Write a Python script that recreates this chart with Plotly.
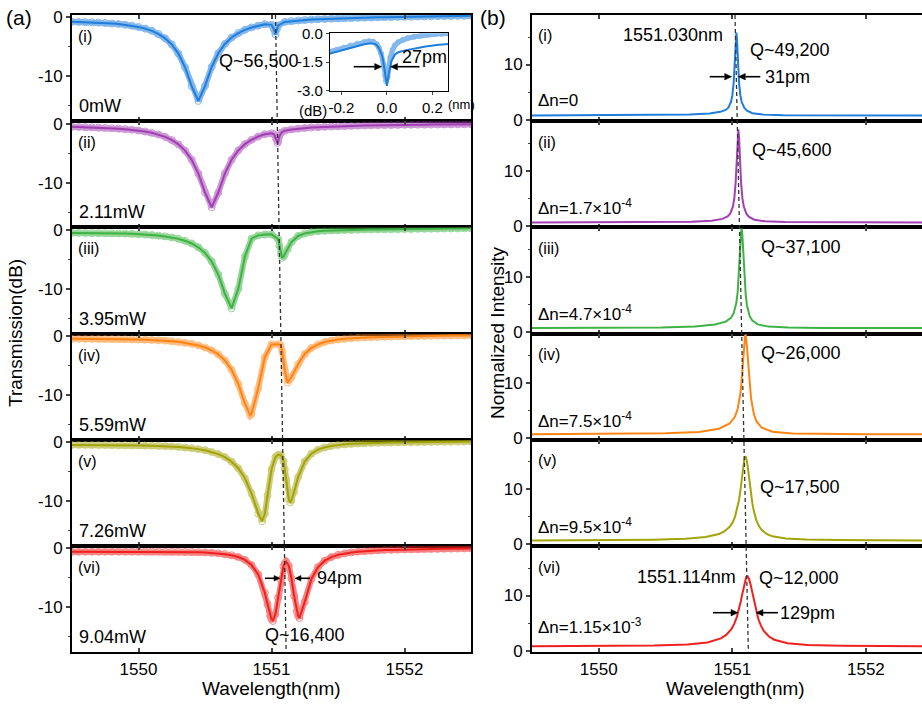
import plotly.graph_objects as go

W, H = 922, 705
FONT = "Arial, 'Liberation Sans', Helvetica, sans-serif"

# ---------------- data: panel (a) transmission spectra (dB) ----------------
WL_BASE = [1549.50, 1549.55, 1549.60, 1549.65, 1549.70, 1549.75, 1549.80, 1549.85, 1549.90, 1549.95,
           1550.00, 1550.05, 1550.10, 1550.15, 1550.20, 1550.25, 1550.30, 1550.35, 1550.40, 1550.45,
           1550.50, 1550.55, 1550.60, 1550.65, 1550.70, 1550.75, 1550.80, 1550.85, 1550.90, 1550.95,
           1551.00, 1551.05, 1551.10, 1551.15, 1551.20, 1551.25, 1551.30, 1551.35, 1551.40, 1551.45,
           1551.50, 1551.55, 1551.60, 1551.65, 1551.70, 1551.75, 1551.80, 1551.85, 1551.90, 1551.95,
           1552.00, 1552.05, 1552.10, 1552.15, 1552.20, 1552.25, 1552.30, 1552.35, 1552.40, 1552.45,
           1552.50]

TR_I = [-0.75, -0.78, -0.81, -0.84, -0.89, -0.96, -1.04, -1.13, -1.26, -1.41,
        -1.63, -1.91, -2.28, -2.81, -3.55, -4.60, -6.15, -8.46, -11.68, -14.16,
        -11.65, -8.41, -6.08, -4.50, -3.42, -2.66, -2.11, -1.71, -1.40, -1.16,
        -1.27, -1.37, -0.77, -0.64, -0.52, -0.44, -0.38, -0.33, -0.28, -0.23,
        -0.19, -0.15, -0.12, -0.08, -0.05, -0.03, 0.00, 0.03, 0.05, 0.07,
        0.09, 0.11, 0.13, 0.15, 0.17, 0.19, 0.21, 0.22, 0.24, 0.26,
        0.28]
WL_I_EXTRA = [1551.02, 1551.03, 1551.04]
TR_I_EXTRA = [-2.11, -2.90, -2.05]

TR_II = [-0.56, -0.59, -0.61, -0.65, -0.69, -0.73, -0.79, -0.86, -0.95, -1.05,
         -1.19, -1.35, -1.57, -1.87, -2.25, -2.78, -3.53, -4.59, -6.15, -8.47,
         -11.69, -14.19, -11.69, -8.45, -6.13, -4.56, -3.49, -2.74, -2.19, -1.81,
         -1.66, -3.03, -1.22, -0.99, -0.85, -0.75, -0.67, -0.61, -0.55, -0.51,
         -0.46, -0.43, -0.40, -0.36, -0.34, -0.31, -0.30, -0.28, -0.26, -0.24,
         -0.22, -0.21, -0.20, -0.19, -0.18, -0.17, -0.16, -0.15, -0.14, -0.13,
         -0.12]
WL_II_EXTRA = [1551.02, 1551.035, 1551.045, 1551.06, 1551.075]
TR_II_EXTRA = [-1.86, -2.62, -3.29, -2.13, -1.51]

TR_III = [-0.53, -0.53, -0.54, -0.55, -0.56, -0.58, -0.60, -0.62, -0.65, -0.69,
          -0.75, -0.81, -0.89, -0.99, -1.13, -1.31, -1.54, -1.87, -2.32, -2.97,
          -3.93, -5.37, -7.60, -10.88, -13.31, -10.06, -4.53, -1.50, -0.95, -0.80,
          -0.78, -1.60, -4.19, -2.09, -1.05, -0.61, -0.38, -0.26, -0.18, -0.13,
          -0.08, -0.06, -0.03, 0.00, 0.02, 0.04, 0.06, 0.07, 0.09, 0.10,
          0.12, 0.13, 0.15, 0.16, 0.17, 0.19, 0.20, 0.21, 0.22, 0.23,
          0.25]
WL_III_EXTRA = [1551.06, 1551.07, 1551.08, 1551.09, 1551.12]
TR_III_EXTRA = [-2.70, -4.00, -4.75, -4.54, -3.29]

TR_IV = [-0.49, -0.49, -0.50, -0.50, -0.51, -0.51, -0.52, -0.53, -0.55, -0.58,
         -0.60, -0.64, -0.68, -0.74, -0.80, -0.89, -1.00, -1.16, -1.34, -1.60,
         -1.95, -2.43, -3.11, -4.16, -5.73, -8.12, -11.42, -13.20, -8.90, -3.56,
         -1.45, -1.40, -5.85, -6.95, -4.78, -3.06, -2.03, -1.42, -1.02, -0.77,
         -0.59, -0.49, -0.38, -0.31, -0.26, -0.20, -0.17, -0.14, -0.10, -0.07,
         -0.05, -0.04, -0.02, 0.00, 0.02, 0.03, 0.04, 0.06, 0.07, 0.08,
         0.09]
WL_IV_EXTRA = [1550.84, 1551.07, 1551.08, 1551.12, 1551.14]
TR_IV_EXTRA = [-13.45, -1.60, -2.60, -7.90, -7.35]

TR_V = [-0.47, -0.47, -0.47, -0.48, -0.48, -0.48, -0.49, -0.50, -0.51, -0.54,
        -0.55, -0.57, -0.60, -0.63, -0.68, -0.74, -0.81, -0.91, -1.02, -1.18,
        -1.37, -1.66, -2.02, -2.53, -3.31, -4.42, -6.12, -8.71, -12.10, -12.15,
        -4.60, -2.15, -4.60, -9.86, -5.94, -3.28, -1.96, -1.27, -0.88, -0.65,
        -0.48, -0.37, -0.29, -0.23, -0.18, -0.14, -0.11, -0.08, -0.06, -0.04,
        -0.03, -0.01, 0.01, 0.02, 0.04, 0.05, 0.06, 0.07, 0.09, 0.10,
        0.11]
WL_V_EXTRA = [1550.93, 1550.97, 1551.03, 1551.07, 1551.09, 1551.11, 1551.13, 1551.14, 1551.17]
TR_V_EXTRA = [-13.40, -9.06, -2.50, -2.15, -3.20, -6.30, -9.70, -10.20, -8.46]

TR_VI = [-0.59, -0.59, -0.58, -0.57, -0.57, -0.56, -0.56, -0.55, -0.55, -0.54,
         -0.54, -0.54, -0.54, -0.54, -0.55, -0.56, -0.57, -0.59, -0.61, -0.65,
         -0.69, -0.76, -0.85, -0.98, -1.17, -1.46, -1.95, -2.83, -4.42, -7.56,
         -12.00, -8.34, -2.55, -5.09, -11.40, -9.06, -5.19, -3.17, -2.09, -1.48,
         -1.10, -0.86, -0.69, -0.56, -0.47, -0.40, -0.34, -0.29, -0.26, -0.22,
         -0.19, -0.17, -0.15, -0.12, -0.10, -0.09, -0.07, -0.05, -0.04, -0.02,
         -0.01]
WL_VI_EXTRA = [1550.97, 1550.99, 1551.01, 1551.03, 1551.07, 1551.09, 1551.11, 1551.13, 1551.17, 1551.19, 1551.21]
TR_VI_EXTRA = [-9.43, -11.45, -12.30, -11.15, -5.28, -3.04, -2.25, -2.96, -8.06, -10.71, -11.81]

# inset of (a)(i): detuning (nm) vs transmission (dB)
INSET_DET_MEAS = [-0.25, -0.22, -0.19, -0.16, -0.13, -0.10, -0.08, -0.06, -0.045, -0.035,
                  -0.025, -0.015, -0.008, -0.003, 0.003, 0.008, 0.015, 0.025, 0.035, 0.05,
                  0.07, 0.09, 0.12, 0.15, 0.18, 0.21, 0.24, 0.27]
INSET_TR_MEAS = [-0.95, -0.85, -0.74, -0.62, -0.52, -0.44, -0.40, -0.42, -0.55, -0.75,
                 -1.05, -1.60, -2.20, -2.50, -2.30, -1.80, -1.25, -0.85, -0.62, -0.45,
                 -0.32, -0.24, -0.16, -0.10, -0.06, -0.03, -0.01, 0.01]
INSET_DET_FIT = [-0.25, -0.20, -0.15, -0.10, -0.07, -0.05, -0.035, -0.02, -0.01, 0.0,
                 0.01, 0.02, 0.035, 0.05, 0.08, 0.12, 0.17, 0.22, 0.27]
INSET_TR_FIT = [-1.05, -0.88, -0.70, -0.56, -0.50, -0.55, -0.75, -1.20, -1.90, -2.75,
                -2.00, -1.45, -1.10, -0.98, -0.88, -0.78, -0.68, -0.60, -0.54]

# ---------------- data: panel (b) simulated normalized intensity ----------------
WL_B1 = [1549.50, 1550.00, 1550.43, 1550.68, 1550.83, 1550.91, 1550.95, 1550.97, 1550.99, 1551.00,
         1551.01, 1551.015, 1551.02, 1551.025, 1551.03, 1551.035, 1551.04, 1551.045, 1551.05, 1551.06,
         1551.07, 1551.09, 1551.11, 1551.15, 1551.23, 1551.38, 1551.63, 1552.00, 1552.50]
IN_B1 = [0.75, 0.77, 0.80, 0.90, 1.10, 1.40, 1.75, 2.15, 3.18, 4.38,
         6.76, 8.80, 11.55, 14.44, 15.80, 14.44, 11.55, 8.80, 6.76, 4.38,
         3.18, 2.10, 1.62, 1.15, 0.90, 0.80, 0.76, 0.75, 0.75]
WL_B2 = [1549.50, 1550.00, 1550.445, 1550.695, 1550.845, 1550.925, 1550.965, 1550.985, 1551.005, 1551.015,
         1551.025, 1551.03, 1551.035, 1551.04, 1551.045, 1551.05, 1551.055, 1551.06, 1551.065, 1551.075,
         1551.085, 1551.105, 1551.125, 1551.165, 1551.245, 1551.395, 1551.645, 1552.00, 1552.50]
IN_B2 = [0.60, 0.62, 0.64, 0.74, 0.92, 1.25, 1.70, 2.25, 3.56, 5.06,
         7.98, 10.31, 13.29, 16.19, 17.50, 16.19, 13.29, 10.31, 7.98, 5.06,
         3.56, 2.18, 1.60, 1.10, 0.80, 0.66, 0.62, 0.61, 0.60]
WL_B3 = [1549.50, 1550.00, 1550.47, 1550.72, 1550.87, 1550.95, 1550.99, 1551.01, 1551.03, 1551.04,
         1551.05, 1551.055, 1551.06, 1551.065, 1551.07, 1551.075, 1551.08, 1551.085, 1551.09, 1551.10,
         1551.11, 1551.13, 1551.15, 1551.19, 1551.27, 1551.42, 1551.67, 1552.00, 1552.50]
IN_B3 = [0.72, 0.73, 0.81, 0.98, 1.34, 1.87, 2.59, 3.41, 5.29, 7.29,
         10.70, 13.09, 15.80, 18.10, 18.80, 17.60, 15.30, 12.59, 10.19, 6.78,
         4.77, 2.87, 2.05, 1.37, 0.97, 0.79, 0.73, 0.71, 0.70]
WL_B4 = [1549.50, 1550.00, 1550.50, 1550.75, 1550.90, 1550.98, 1551.02, 1551.04, 1551.06, 1551.07,
         1551.08, 1551.085, 1551.09, 1551.095, 1551.10, 1551.105, 1551.11, 1551.115, 1551.12, 1551.13,
         1551.14, 1551.16, 1551.18, 1551.22, 1551.30, 1551.45, 1551.70, 1552.00, 1552.50]
IN_B4 = [0.73, 0.77, 0.87, 1.14, 1.72, 2.66, 3.91, 5.29, 8.07, 10.49,
         13.81, 15.65, 17.39, 18.64, 18.70, 17.84, 16.59, 14.85, 13.00, 9.68,
         7.25, 4.47, 3.09, 1.90, 1.17, 0.86, 0.75, 0.72, 0.71]
WL_B5 = [1549.50, 1550.00, 1550.40, 1550.65, 1550.80, 1550.90, 1550.94, 1550.98, 1551.00, 1551.02,
         1551.04, 1551.05, 1551.06, 1551.07, 1551.08, 1551.09, 1551.10, 1551.11, 1551.12, 1551.13,
         1551.14, 1551.15, 1551.16, 1551.18, 1551.20, 1551.22, 1551.26, 1551.30, 1551.40, 1551.55,
         1551.80, 1552.00, 1552.50]
IN_B5 = [0.72, 0.75, 0.84, 1.00, 1.32, 1.88, 2.35, 3.19, 3.89, 4.99,
         6.77, 8.06, 9.70, 11.70, 13.82, 15.58, 16.00, 14.98, 13.21, 11.09,
         9.08, 7.44, 6.14, 4.37, 3.29, 2.61, 1.85, 1.46, 1.05, 0.86,
         0.77, 0.74, 0.71]
WL_B6 = [1549.50, 1550.00, 1550.414, 1550.664, 1550.814, 1550.914, 1550.954, 1550.994, 1551.014, 1551.034,
         1551.054, 1551.064, 1551.074, 1551.084, 1551.094, 1551.104, 1551.114, 1551.124, 1551.134, 1551.144,
         1551.154, 1551.164, 1551.174, 1551.194, 1551.214, 1551.234, 1551.274, 1551.314, 1551.414, 1551.564,
         1551.814, 1552.00, 1552.50]
IN_B6 = [0.77, 0.81, 0.90, 1.10, 1.47, 2.21, 2.84, 3.95, 4.85, 6.12,
         7.89, 9.00, 10.21, 11.45, 12.56, 13.37, 13.50, 13.07, 12.26, 11.14,
         9.89, 8.68, 7.56, 5.78, 4.52, 3.63, 2.55, 1.97, 1.32, 1.01,
         0.85, 0.80, 0.77]

COLORS = ["#1f7ddc", "#a23fb3", "#3fb244", "#ff8414", "#a3a30a", "#f0201e"]
ROMAN = ["(i)", "(ii)", "(iii)", "(iv)", "(v)", "(vi)"]
POWER = ["0mW", "2.11mW", "3.95mW", "5.59mW", "7.26mW", "9.04mW"]
DN = ["\u0394n=0", "\u0394n=1.7\u00d710<sup>-4</sup>", "\u0394n=4.7\u00d710<sup>-4</sup>",
      "\u0394n=7.5\u00d710<sup>-4</sup>", "\u0394n=9.5\u00d710<sup>-4</sup>", "\u0394n=1.15\u00d710<sup>-3</sup>"]
Q_B = ["Q~49,200", "Q~45,600", "Q~37,100", "Q~26,000", "Q~17,500", "Q~12,000"]

A_SETS = [(WL_BASE, TR_I, WL_I_EXTRA, TR_I_EXTRA),
          (WL_BASE, TR_II, WL_II_EXTRA, TR_II_EXTRA),
          (WL_BASE, TR_III, WL_III_EXTRA, TR_III_EXTRA),
          (WL_BASE, TR_IV, WL_IV_EXTRA, TR_IV_EXTRA),
          (WL_BASE, TR_V, WL_V_EXTRA, TR_V_EXTRA),
          (WL_BASE, TR_VI, WL_VI_EXTRA, TR_VI_EXTRA)]
B_SETS = [(WL_B1, IN_B1), (WL_B2, IN_B2), (WL_B3, IN_B3),
          (WL_B4, IN_B4), (WL_B5, IN_B5), (WL_B6, IN_B6)]

# ---------------- geometry (pixels of the 922x705 canvas) ----------------
TOP, PH = 15.0, 106.2
AX0, AX1 = 72.0, 471.0
BX0, BX1 = 532.0, 922.0


def P(px, py):
    return px / W, 1 - py / H


def axkey(n, k):
    return f"{k}axis" if n == 1 else f"{k}axis{n}"


def ref(n, k):
    return k if n == 1 else f"{k}{n}"


def merge(xb, yb, xe, ye):
    pts = sorted(zip(list(xb) + list(xe), list(yb) + list(ye)))
    return [p[0] for p in pts], [p[1] for p in pts]


fig = go.Figure()
layout = dict(width=W, height=H, margin=dict(l=0, r=0, t=0, b=0, pad=0, autoexpand=False),
              paper_bgcolor="white", plot_bgcolor="white", showlegend=False,
              font=dict(family=FONT, size=17, color="black"))

AXLINE = dict(showline=True, linecolor="black", linewidth=1.8, showgrid=False, zeroline=False,
              automargin=False)

for i in range(6):
    top = TOP + i * PH
    bot = top + PH
    ydom = [1 - bot / H, 1 - top / H]
    na, nb = i + 1, i + 7
    # panel (a)
    layout[axkey(na, "x")] = dict(domain=[AX0 / W, AX1 / W], range=[1549.5, 1552.5], anchor=ref(na, "y"),
                                  mirror="ticks", ticks="inside", ticklen=4, tickwidth=1.5,
                                  tickvals=[1550, 1551, 1552], showticklabels=(i == 5),
                                  tickfont=dict(size=17), **AXLINE)
    layout[axkey(na, "y")] = dict(domain=ydom, range=[-17.6, 0.4], anchor=ref(na, "x"), mirror=True,
                                  ticks="outside", ticklen=4, tickwidth=1.5,
                                  tickvals=[0, -10], ticktext=["0", "-10"],
                                  minor=dict(tickvals=[-5, -15], ticks="outside", ticklen=2.5, tickwidth=1),
                                  tickfont=dict(size=17), **AXLINE)
    # panel (b)
    layout[axkey(nb, "x")] = dict(domain=[BX0 / W, BX1 / W], range=[1549.5, 1552.42], anchor=ref(nb, "y"),
                                  mirror="ticks", ticks="inside", ticklen=4, tickwidth=1.5,
                                  tickvals=[1550, 1551, 1552], showticklabels=(i == 5),
                                  tickfont=dict(size=17), **AXLINE)
    layout[axkey(nb, "y")] = dict(domain=ydom, range=[-0.3, 19.0], anchor=ref(nb, "x"), mirror=False,
                                  ticks="outside", ticklen=4, tickwidth=1.5, tickvals=[0, 10],
                                  minor=dict(tickvals=[5, 15], ticks="outside", ticklen=2.5, tickwidth=1),
                                  tickfont=dict(size=17), **AXLINE)

    xb, yb, xe, ye = A_SETS[i]
    xs, ys = merge(xb, yb, xe, ye)
    # measured points: translucent band through the samples plus open circles
    fig.add_trace(go.Scatter(x=xs, y=ys, mode="lines+markers", xaxis=ref(na, "x"), yaxis=ref(na, "y"),
                             opacity=0.55, line=dict(color=COLORS[i], width=6),
                             marker=dict(symbol="circle-open", size=7, color=COLORS[i], line=dict(width=1))))
    # fitted curve
    fig.add_trace(go.Scatter(x=xs, y=ys, mode="lines", xaxis=ref(na, "x"), yaxis=ref(na, "y"),
                             line=dict(color=COLORS[i], width=2)))
    bx, by = B_SETS[i]
    fig.add_trace(go.Scatter(x=bx, y=by, mode="lines", xaxis=ref(nb, "x"), yaxis=ref(nb, "y"),
                             line=dict(color=COLORS[i], width=2)))

# inset axes
INSET_AX = dict(showline=True, linecolor="black", linewidth=1.2, showgrid=False, zeroline=False,
                automargin=False, mirror=True, ticks="outside", ticklen=3, tickwidth=1,
                tickfont=dict(size=15))
layout["xaxis13"] = dict(domain=[330 / W, 448.3 / W], range=[-0.25, 0.27], anchor="y13",
                         tickvals=[-0.2, 0.0, 0.2], ticktext=["-0.2", "0.0", "0.2"], **INSET_AX)
layout["yaxis13"] = dict(domain=[1 - 91 / H, 1 - 33.3 / H], range=[-3.02, 0.02], anchor="x13",
                         tickvals=[0.0, -1.5, -3.0], ticktext=["0.0", "-1.5", "-3.0"], **INSET_AX)
fig.add_trace(go.Scatter(x=INSET_DET_MEAS, y=INSET_TR_MEAS, mode="lines+markers", xaxis="x13", yaxis="y13",
                         opacity=0.55, line=dict(color=COLORS[0], width=5),
                         marker=dict(symbol="circle-open", size=5, color=COLORS[0], line=dict(width=1))))
fig.add_trace(go.Scatter(x=INSET_DET_FIT, y=INSET_TR_FIT, mode="lines", xaxis="x13", yaxis="y13",
                         line=dict(color=COLORS[0], width=2)))

# dashed guide lines following the resonance
shapes = [
    dict(type="line", xref="x", yref="paper", x0=1551.03, x1=1551.11, y0=1 - TOP / H, y1=1 - (TOP + 6 * PH) / H,
         line=dict(color="#333333", width=1.3, dash="4px,3px")),
    dict(type="line", xref="x7", yref="paper", x0=1551.02, x1=1551.12, y0=1 - TOP / H, y1=1 - (TOP + 6 * PH) / H,
         line=dict(color="#333333", width=1.3, dash="4px,3px")),
]


def arrow(px, py, dx, head=7.0, half=3.2):
    """Horizontal arrow: head tip at (px, py), tail at (px+dx, py); drawn as paper-space shapes."""
    sgn = 1 if dx > 0 else -1   # tail side
    base = px + sgn * head
    x0, y0 = P(px + dx, py)
    x1, y1 = P(base, py)
    shapes.append(dict(type="line", xref="paper", yref="paper", x0=x0, y0=y0, x1=x1, y1=y1,
                       line=dict(color="black", width=1.6)))
    tx, ty = P(px, py)
    bx, by_top = P(base, py - half)
    _, by_bot = P(base, py + half)
    shapes.append(dict(type="path", xref="paper", yref="paper",
                       path=f"M {tx} {ty} L {bx} {by_top} L {bx} {by_bot} Z",
                       fillcolor="black", line=dict(color="black", width=0.5)))


ann = []


def text(t, px, py, size=17, xanchor="center", angle=0):
    x, y = P(px, py)
    ann.append(dict(text=t, x=x, y=y, xref="paper", yref="paper", showarrow=False, xanchor=xanchor,
                    yanchor="middle", textangle=angle, font=dict(size=size, family=FONT, color="black")))


for i in range(6):
    top = TOP + i * PH
    text(ROMAN[i], 76, top + 21.5, 16, "left")
    text(POWER[i], 77, top + PH - 15, 18, "left")
    text(ROMAN[i], 536, top + 21, 16, "left")
    text(DN[i], 536, top + (80 if i == 5 else 86), 17, "left")

B_Q_POS = [(790, 50), (792, 150), (801, 247), (801, 353), (800, 487), (799, 578)]
for i in range(6):
    text(Q_B[i], B_Q_POS[i][0], B_Q_POS[i][1], 18)

text("(a)", 19, 17.5, 21)
text("(b)", 493, 17, 21)
text("Transmission(dB)", 15, 333, 19, angle=-90)
text("Normalized Intensity", 497, 333, 19, angle=-90)
text("Wavelength(nm)", 271, 688, 19)
text("Wavelength(nm)", 735, 688, 19)

# (a) annotations
text("Q~56,500", 259, 61, 18)
text("27pm", 424, 57, 18)
arrow(381.7, 66.7, -28)
arrow(390.5, 66.7, 29)
text("(dB)", 313, 110, 15)
text("(nm)", 461.5, 104, 13)
text("94pm", 315, 578, 18, "left")
arrow(280, 578.3, -15, head=6, half=2.8)
arrow(295, 578.3, 15, head=6, half=2.8)
text("Q~16,400", 305, 635, 18)

# (b) annotations
text("1551.030nm", 673, 35, 18)
text("31pm", 763, 76.7, 18, "left")
arrow(731.7, 76.7, -22)
arrow(738.3, 76.7, 22)
text("1551.114nm", 686, 577, 18)
text("129pm", 778, 612.7, 18, "left")
arrow(738, 612.7, -25)
arrow(756, 612.7, 22)

layout["annotations"] = ann
layout["shapes"] = shapes
fig.update_layout(**layout)
# remove the browser's default 8px page margin so the 922x705 figure fills the window
fig.write_html("out.html", config={"displayModeBar": False},
               post_script="document.body.style.margin='0';document.body.style.overflow='hidden';")
